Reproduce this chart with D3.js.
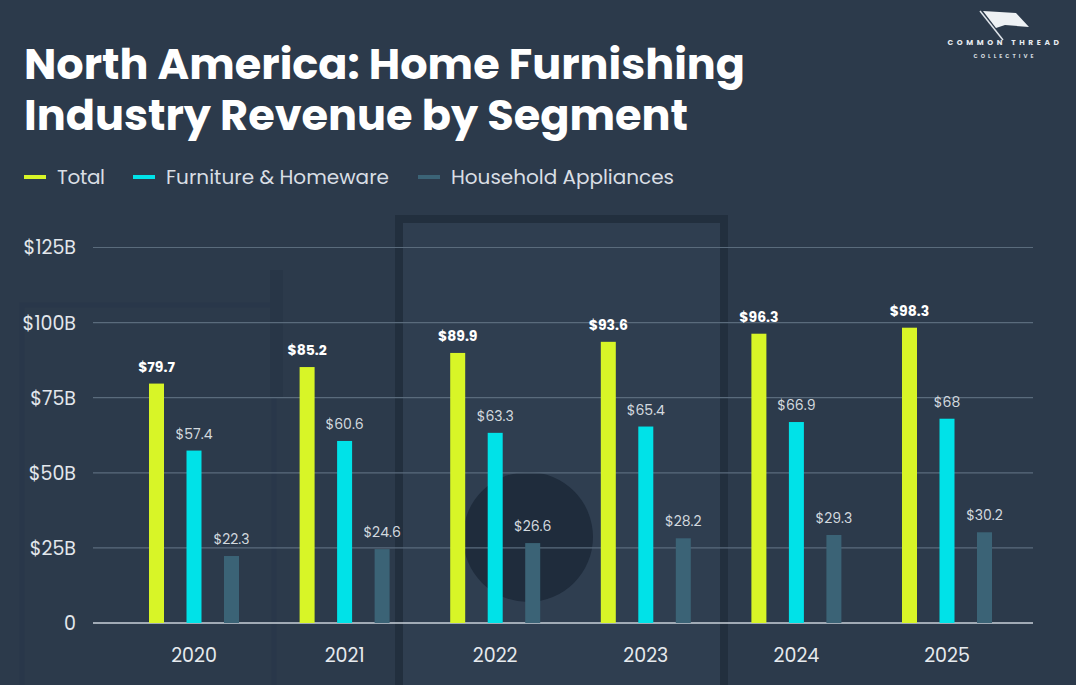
<!DOCTYPE html>
<html><head><meta charset="utf-8">
<script src="https://cdn.jsdelivr.net/npm/d3@7"></script>
<style>
html,body{margin:0;padding:0;background:#2c3a4b;}
svg{display:block;}
</style></head>
<body>
<svg id="chart" width="1076" height="685"></svg>
<script>
const years = ["2020","2021","2022","2023","2024","2025"];
const seriesNames = ["Total","Furniture & Homeware","Household Appliances"];
const totalValues = [79.7, 85.2, 89.9, 93.6, 96.3, 98.3];
const furnitureValues = [57.4, 60.6, 63.3, 65.4, 66.9, 68];
const applianceValues = [22.3, 24.6, 26.6, 28.2, 29.3, 30.2];
const yTicks = [0, 25, 50, 75, 100, 125];
const yTickLabels = ["0", "$25B", "$50B", "$75B", "$100B", "$125B"];
const colors = ["#d8f527", "#00e2e8", "#3b6376"];

const svg = d3.select("#chart");
const W = 1076, H = 685;
const font = "Poppins, 'Open Sans', 'Noto Sans', sans-serif";

// background
svg.append("rect").attr("width", W).attr("height", H).attr("fill", "#2c3a4b");
// decorative background shapes (photo-like)
const deco = svg.append("g");
deco.append("rect").attr("x", 399).attr("y", 219).attr("width", 325).attr("height", 470)
  .attr("fill", "#2f3e50").attr("stroke", "#222f3e").attr("stroke-width", 8);
deco.append("rect").attr("x", 22).attr("y", 305).attr("width", 252).attr("height", 400)
  .attr("fill", "none").attr("stroke", "#29374a").attr("stroke-width", 5);
deco.append("rect").attr("x", 270).attr("y", 270).attr("width", 13).attr("height", 128)
  .attr("fill", "#283647");
deco.append("circle").attr("cx", 528).attr("cy", 537).attr("r", 65).attr("fill", "#1f2c3c");

// title
const title = svg.append("g").attr("font-family", font).attr("font-weight", 700).attr("fill", "#ffffff");
title.append("text").attr("x", 24).attr("y", 79).attr("font-size", 43)
  .attr("textLength", 721).attr("lengthAdjust", "spacingAndGlyphs")
  .text("North America: Home Furnishing");
title.append("text").attr("x", 24).attr("y", 130).attr("font-size", 43)
  .attr("textLength", 664).attr("lengthAdjust", "spacingAndGlyphs")
  .text("Industry Revenue by Segment");

// legend
const legendX = [24, 133, 418];
const legendTextW = [48, 223, 223];
const legend = svg.append("g").attr("font-family", font);
seriesNames.forEach((n, i) => {
  legend.append("rect").attr("x", legendX[i]).attr("y", 175).attr("width", 22).attr("height", 4)
    .attr("fill", colors[i]);
  legend.append("text").attr("x", legendX[i] + 33).attr("y", 184).attr("font-size", 20)
    .attr("fill", "#d9dee4")
    .attr("textLength", legendTextW[i]).attr("lengthAdjust", "spacing")
    .text(n);
});

// logo
const logo = svg.append("g");
logo.append("line").attr("x1", 980).attr("y1", 11).attr("x2", 1003).attr("y2", 40)
  .attr("stroke", "#dfe4ea").attr("stroke-width", 1.5);
logo.append("path").attr("d", "M983,11 L1016,13 L1029,27 L1005,25 L996,28 Z").attr("fill", "#eef1f4");
logo.append("text").attr("x", 1005).attr("y", 45).attr("text-anchor", "middle")
  .attr("font-family", font).attr("font-weight", 700).attr("font-size", 7.5)
  .attr("letter-spacing", 3.6).attr("fill", "#e6eaef").text("COMMON THREAD");
logo.append("text").attr("x", 1005).attr("y", 58).attr("text-anchor", "middle")
  .attr("font-family", font).attr("font-weight", 700).attr("font-size", 5.5)
  .attr("letter-spacing", 3).attr("fill", "#d0d6dd").text("COLLECTIVE");

// scales
const y = d3.scaleLinear().domain([0, 125]).range([623, 247.5]);
const x0 = d3.scaleBand().domain(years).range([118.7, 1022.3]).padding(0);
const x1 = d3.scaleBand().domain(seriesNames).range([-45, 45]).paddingInner(0.6).paddingOuter(0);

// gridlines
const grid = svg.append("g");
grid.selectAll("line").data(yTicks.filter(d => d > 0)).join("line")
  .attr("x1", 93).attr("x2", 1033)
  .attr("y1", d => y(d)).attr("y2", d => y(d))
  .attr("stroke", "#5a6b7c").attr("stroke-width", 1.2);

// y axis labels
const yAxis = d3.axisLeft(y).tickValues(yTicks).tickFormat((d, i) => yTickLabels[i]).tickSize(0).tickPadding(0);
const ya = svg.append("g").attr("transform", "translate(76,0)").call(yAxis);
ya.select(".domain").remove();
ya.selectAll("text").attr("font-family", font).attr("font-size", 19).attr("fill", "#e3e7ec").attr("dy", "0.34em");

// baseline
svg.append("line").attr("x1", 93).attr("x2", 1033).attr("y1", y(0)).attr("y2", y(0))
  .attr("stroke", "#c8d0d8").attr("stroke-width", 1.6);

// bars
const data = years.map((yr, i) => ({year: yr, vals: [totalValues[i], furnitureValues[i], applianceValues[i]]}));
const groups = svg.append("g").selectAll("g").data(data).join("g")
  .attr("transform", d => `translate(${x0(d.year) + x0.bandwidth() / 2},0)`);
groups.selectAll("rect").data(d => d.vals.map((v, j) => ({v, s: seriesNames[j], j}))).join("rect")
  .attr("x", d => x1(d.s)).attr("width", x1.bandwidth())
  .attr("y", d => y(d.v)).attr("height", d => y(0) - y(d.v))
  .attr("fill", d => colors[d.j]);
groups.selectAll("text.val").data(d => d.vals.map((v, j) => ({v, s: seriesNames[j], j}))).join("text")
  .attr("class", "val")
  .attr("x", d => x1(d.s) + x1.bandwidth() / 2)
  .attr("y", d => y(d.v) - 12)
  .attr("text-anchor", "middle")
  .attr("font-family", font)
  .attr("font-size", 14)
  .attr("font-weight", d => d.j === 0 ? 700 : 400)
  .attr("fill", d => d.j === 0 ? "#ffffff" : "#d3d9df")
  .text(d => "$" + d.v);

// x axis labels
const xAxis = d3.axisBottom(x0).tickSize(0).tickPadding(0);
const xa = svg.append("g").attr("transform", "translate(0,648)").call(xAxis);
xa.select(".domain").remove();
xa.selectAll("text").attr("font-family", font).attr("font-size", 19).attr("fill", "#e6eaee").attr("dy", "0.71em");
</script>
</body></html>
